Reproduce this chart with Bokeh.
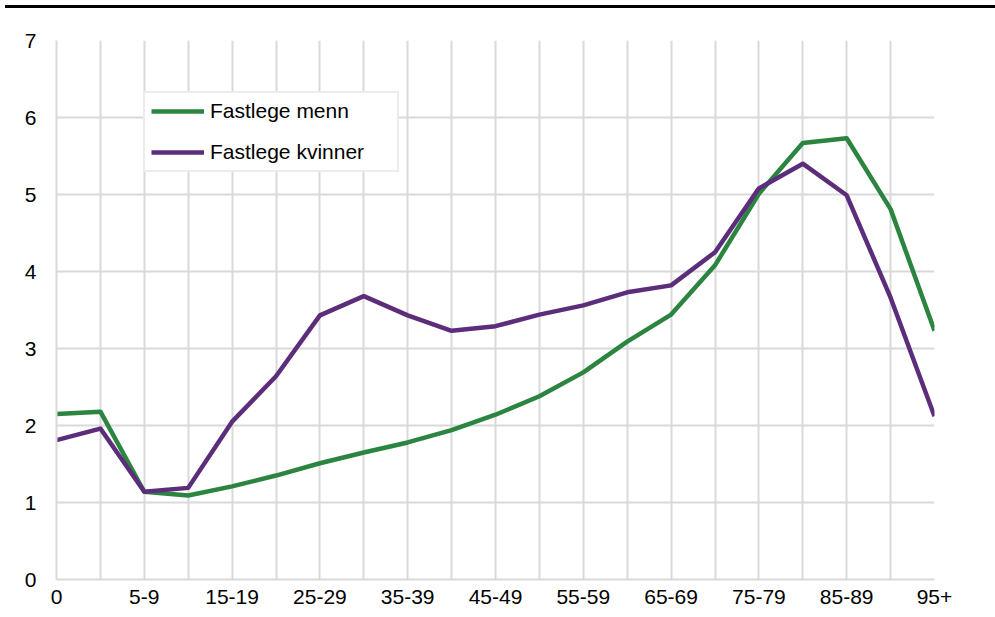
from bokeh.plotting import figure
from bokeh.models import Range1d, FixedTicker, Legend, LegendItem, Div
from bokeh.layouts import column
from bokeh.embed import file_html
from bokeh.resources import INLINE

categories = ["0", "1-4", "5-9", "10-14", "15-19", "20-24", "25-29", "30-34",
              "35-39", "40-44", "45-49", "50-54", "55-59", "60-64", "65-69",
              "70-74", "75-79", "80-84", "85-89", "90-94", "95+"]
menn = [2.15, 2.18, 1.14, 1.09, 1.21, 1.35, 1.51, 1.65, 1.78, 1.94, 2.14,
        2.38, 2.69, 3.09, 3.44, 4.08, 5.01, 5.67, 5.73, 4.81, 3.23]
kvinner = [1.81, 1.96, 1.14, 1.19, 2.05, 2.64, 3.43, 3.68, 3.43, 3.23, 3.29,
           3.44, 3.56, 3.73, 3.82, 4.25, 5.08, 5.40, 4.99, 3.66, 2.12]
y_ticks = [0, 1, 2, 3, 4, 5, 6, 7]

xs = list(range(len(categories)))
label_idx = [i for i in xs if i % 2 == 0]
overrides = {i: categories[i] for i in label_idx}

FONT = "Liberation Sans"
GRID = "#d9d9d9"

p = figure(width=987, height=601, output_backend="svg", toolbar_location=None,
           x_range=Range1d(0, len(categories) - 1), y_range=Range1d(0, 7),
           min_border_left=56, min_border_right=53, min_border_top=32,
           min_border_bottom=30)
p.outline_line_color = None

p.xaxis.ticker = FixedTicker(ticks=label_idx)
p.xaxis.major_label_overrides = overrides
p.yaxis.ticker = FixedTicker(ticks=y_ticks)
p.xgrid.ticker = FixedTicker(ticks=xs)
p.ygrid.ticker = FixedTicker(ticks=y_ticks)
for g in (p.xgrid, p.ygrid):
    g.grid_line_color = GRID
    g.grid_line_width = 2

for ax in (p.xaxis, p.yaxis):
    ax.axis_line_color = GRID
    ax.axis_line_width = 2
    ax.major_tick_line_color = None
    ax.minor_tick_line_color = None
    ax.major_label_text_font = FONT
    ax.major_label_text_font_size = "21px"
    ax.major_label_text_color = "#000000"
p.xaxis.major_label_standoff = 4
p.yaxis.major_label_standoff = 14

r1 = p.line(xs, menn, line_color="#2B8540", line_width=4.5, line_join="round")
r2 = p.line(xs, kvinner, line_color="#5B2D7B", line_width=4.5, line_join="round")

legend = Legend(items=[LegendItem(label="Fastlege menn", renderers=[r1]),
                       LegendItem(label="Fastlege kvinner", renderers=[r2])],
                location=(87, 407), padding=6, spacing=17, margin=0,
                glyph_width=53, glyph_height=20, label_height=20,
                label_width=181, label_standoff=6,
                label_text_font=FONT, label_text_font_size="21px",
                label_text_color="#000000",
                border_line_color=GRID, border_line_width=2,
                background_fill_color="white", background_fill_alpha=1)
p.add_layout(legend)

bar = Div(text="", width=990, height=3, margin=(5, 0, 0, 5),
          styles={"background-color": "black"})
layout = column(bar, p, spacing=0)

open("out.html", "w").write(file_html(layout, INLINE))
